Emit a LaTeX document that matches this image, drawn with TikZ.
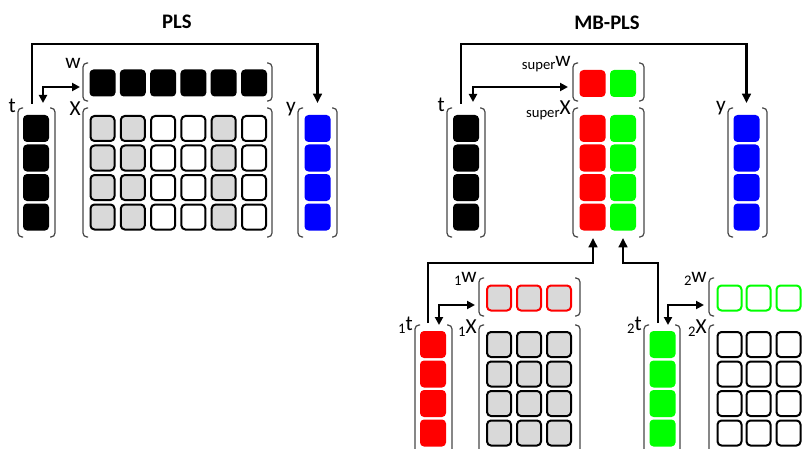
\documentclass[tikz,border=0pt]{standalone}
\usepackage{fontspec}
\setmainfont{Carlito}
\usetikzlibrary{arrows.meta}
\definecolor{cgray}{RGB}{217,217,217}
\definecolor{cred}{RGB}{255,0,0}
\definecolor{cgreen}{RGB}{0,255,0}
\definecolor{cblue}{RGB}{0,0,255}
\definecolor{cbrk}{RGB}{70,70,70}
\newcommand{\matbr}[4]{%
  \draw[brk] (#1+5,#3) -- (#1,#3) -- (#1,#4) -- (#1+5,#4);
  \draw[brk] (#2-5,#3) -- (#2,#3) -- (#2,#4) -- (#2-5,#4);}
\newcommand{\presc}[1]{\raisebox{-2.5pt}{\fontsize{11}{11}\selectfont #1}}
\newcommand{\supersc}{\raisebox{-2pt}{\fontsize{11}{11}\selectfont super}}
\begin{document}
\begin{tikzpicture}[x=0.75pt,y=-0.75pt,
  sq/.style={rectangle, rounded corners=3pt, minimum width=19.5pt, minimum height=20.25pt, inner sep=0pt, draw=none},
  sqb/.style={rectangle, rounded corners=3pt, minimum width=18pt, minimum height=18.75pt, inner sep=0pt, line width=1.5pt, draw=black},
  brk/.style={draw=cbrk, line width=0.9pt, rounded corners=3pt},
  lbl/.style={anchor=base east, inner sep=0pt, font=\fontsize{16}{16}\selectfont},
  ttl/.style={anchor=base, inner sep=0pt, font=\fontsize{15.5}{18}\selectfont\bfseries},
  arr/.style={line width=2pt, -{Triangle[length=7pt,width=6.5pt]}},
  arrb/.style={line width=1.7pt, {Triangle[length=6pt,width=6pt]}-{Triangle[length=6pt,width=6pt]}}]
\useasboundingbox (0,0) rectangle (802,449);
\clip (0,0) rectangle (802,449);

% ---------------- PLS ----------------
\node[ttl] (plstitle) at (177,29) {PLS};
\matbr{18}{55}{108}{237}
\matbr{83}{272}{63}{101}
\matbr{83}{272}{108}{237}
\matbr{298}{337}{108}{237}
\node[lbl] (plstl) at (16,113) {t};
\node[lbl] (plswl) at (81,69) {w};
\node[lbl] (plsxl) at (81,116) {X};
\node[lbl] (plsyl) at (296,113) {y};
\foreach \yy [count=\i] in {128.5,158,187.5,217} {
  \node[sq, fill=black] (pt\i) at (36,\yy) {};
  \node[sq, fill=cblue] (py\i) at (317.5,\yy) {};
  \foreach \xx/\ff [count=\j] in {102.5/cgray,132.8/cgray,163.1/white,193.4/white,223.7/cgray,254/white}
    \node[sqb, fill=\ff] (px\i\j) at (\xx,\yy) {};
}
\foreach \xx [count=\j] in {102.5,132.8,163.1,193.4,223.7,254}
  \node[sq, fill=black] (pw\j) at (\xx,83) {};
\coordinate (pa) at (32,104);
\coordinate (pb) at (317.5,44);
\coordinate (pc) at (317.5,103);
\coordinate (pd) at (43,103);
\coordinate (pe) at (80,87);
\draw[arr] (pa) |- (pb) -- (pc);
\draw[arrb] (pd) |- (pe);

% ---------------- MB-PLS ----------------
\node[ttl] (mbtitle) at (607,30) {MB-PLS};
\matbr{447}{485}{108}{237}
\matbr{573}{644}{63}{101}
\matbr{573}{644}{108}{237}
\matbr{728}{767}{108}{237}
\node[lbl] (mbtl) at (445,112) {t};
\node[lbl] (mbwl) at (571,67) {\supersc w};
\node[lbl] (mbxl) at (571,115) {\supersc X};
\node[lbl] (mbyl) at (726,112) {y};
\foreach \yy [count=\i] in {128.5,158,187.5,217} {
  \node[sq, fill=black] (mt\i) at (466,\yy) {};
  \node[sq, fill=cred] (mxa\i) at (592.5,\yy) {};
  \node[sq, fill=cgreen] (mxb\i) at (623,\yy) {};
  \node[sq, fill=cblue] (my\i) at (746.5,\yy) {};
}
\node[sq, fill=cred] (mwa) at (592.5,83.5) {};
\node[sq, fill=cgreen] (mwb) at (623,83.5) {};
\coordinate (ma) at (461,104);
\coordinate (mb) at (746.5,44);
\coordinate (mc) at (746.5,103);
\coordinate (md) at (473,102);
\coordinate (me) at (568,87);
\draw[arr] (ma) |- (mb) -- (mc);
\draw[arrb] (md) |- (me);

% ---------------- block 1 ----------------
\matbr{415}{452}{325}{455}
\matbr{479}{580}{278}{316}
\matbr{479}{580}{325}{455}
\node[lbl] (b1tl) at (413,330) {\presc{1}t};
\node[lbl] (b1wl) at (477,282) {\presc{1}w};
\node[lbl] (b1xl) at (477,333) {\presc{1}X};
\foreach \yy [count=\i] in {344.5,374,403.5,433} {
  \node[sq, fill=cred] (at\i) at (433,\yy) {};
  \foreach \xx [count=\j] in {499,529,559}
    \node[sqb, fill=cgray] (ax\i\j) at (\xx,\yy) {};
}
\foreach \xx [count=\j] in {499,529,559}
  \node[sqb, fill=cgray, draw=cred] (aw\j) at (\xx,298) {};
\coordinate (aa) at (428,323);
\coordinate (ab) at (593,263);
\coordinate (ac) at (593,238);
\coordinate (ad) at (439,325);
\coordinate (ae) at (475,305);
\draw[arr] (aa) |- (ab) -- (ac);
\draw[arrb] (ad) |- (ae);

% ---------------- block 2 ----------------
\matbr{644}{680}{325}{455}
\matbr{709}{812}{278}{316}
\matbr{709}{812}{325}{455}
\node[lbl] (b2tl) at (642,330) {\presc{2}t};
\node[lbl] (b2wl) at (707,282) {\presc{2}w};
\node[lbl] (b2xl) at (707,333) {\presc{2}X};
\foreach \yy [count=\i] in {344.5,374,403.5,433} {
  \node[sq, fill=cgreen] (bt\i) at (662.5,\yy) {};
  \foreach \xx [count=\j] in {729.5,758.5,788.5}
    \node[sqb, fill=white] (bx\i\j) at (\xx,\yy) {};
}
\foreach \xx [count=\j] in {729.5,758.5,788.5}
  \node[sqb, fill=white, draw=cgreen] (bw\j) at (\xx,298) {};
\coordinate (ba) at (658,323);
\coordinate (bb) at (623,263);
\coordinate (bc) at (623,238);
\coordinate (bd) at (668,325);
\coordinate (be) at (704,305);
\draw[arr] (ba) |- (bb) -- (bc);
\draw[arrb] (bd) |- (be);
\end{tikzpicture}
\end{document}
